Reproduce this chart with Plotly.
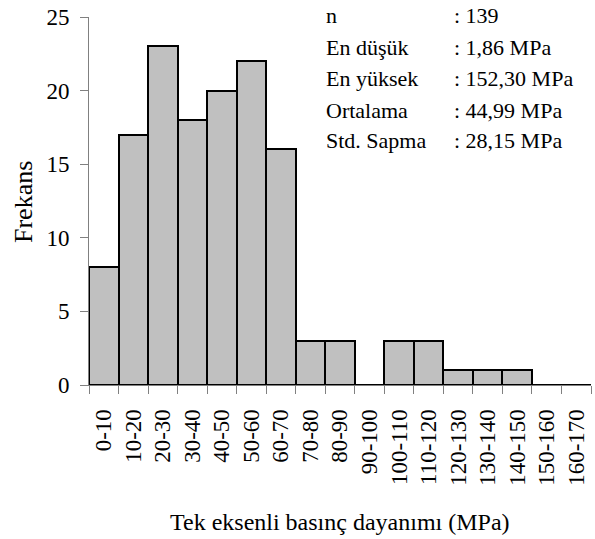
import plotly.graph_objects as go

categories = ["0-10", "10-20", "20-30", "30-40", "40-50", "50-60", "60-70", "70-80",
              "80-90", "90-100", "100-110", "110-120", "120-130", "130-140",
              "140-150", "150-160", "160-170"]
frequencies = [8, 17, 23, 18, 20, 22, 16, 3, 3, 0, 3, 3, 1, 1, 1, 0, 0]

stat_labels = ["n", "En düşük", "En yüksek", "Ortalama", "Std. Sapma"]
stat_values = [": 139", ": 1,86 MPa", ": 152,30 MPa", ": 44,99 MPa", ": 28,15 MPa"]

W, H = 595, 539
L, R, T, B = 89, 4, 17, 154
FONT = "Liberation Serif"

fig = go.Figure()
fig.add_trace(go.Bar(
    x=categories, y=frequencies,
    marker=dict(color="#c0c0c0", line=dict(color="black", width=2)),
    showlegend=False,
))

pw = W - L - R
ph = H - T - B


def px_x(p):
    return (p - L) / pw


def px_y(p):
    return 1 - (p - T) / ph


annotations = []
line_centers = [15, 47, 78, 110, 140]
for lab, val, yc in zip(stat_labels, stat_values, line_centers):
    annotations.append(dict(text=lab, x=px_x(324), y=px_y(yc), xref="paper", yref="paper",
                            xanchor="left", yanchor="middle", showarrow=False,
                            font=dict(family=FONT, size=22, color="black")))
    annotations.append(dict(text=val, x=px_x(452), y=px_y(yc), xref="paper", yref="paper",
                            xanchor="left", yanchor="middle", showarrow=False,
                            font=dict(family=FONT, size=22, color="black")))

annotations.append(dict(text="Tek eksenli basınç dayanımı (MPa)", x=0.5, y=px_y(522),
                        xref="paper", yref="paper", xanchor="center", yanchor="middle",
                        showarrow=False, font=dict(family=FONT, size=24, color="black")))
annotations.append(dict(text="Frekans", x=px_x(24), y=px_y(202), xref="paper", yref="paper",
                        xanchor="center", yanchor="middle", textangle=-90,
                        showarrow=False, font=dict(family=FONT, size=26, color="black")))

fig.update_layout(
    width=W, height=H,
    margin=dict(l=L, r=R, t=T, b=B, pad=0),
    plot_bgcolor="white", paper_bgcolor="white",
    bargap=0,
    font=dict(family=FONT, size=22, color="black"),
    annotations=annotations,
    xaxis=dict(
        type="category", range=[-0.5, 16.5], tickson="boundaries",
        showline=True, linecolor="#808080", linewidth=1,
        ticks="outside", ticklen=8, tickcolor="#808080", tickwidth=1,
        tickangle=-90, showgrid=False, zeroline=False,
        ticklabelstandoff=14,
        tickfont=dict(family=FONT, size=23, color="black"),
    ),
    yaxis=dict(
        range=[0, 25], tickvals=[0, 5, 10, 15, 20, 25],
        showline=True, linecolor="#808080", linewidth=1,
        ticks="outside", ticklen=8, tickcolor="#808080", tickwidth=1,
        showgrid=False, zeroline=False,
        ticklabelstandoff=6,
        tickfont=dict(family=FONT, size=23, color="black"),
    ),
)

fig.write_html("out.html")
